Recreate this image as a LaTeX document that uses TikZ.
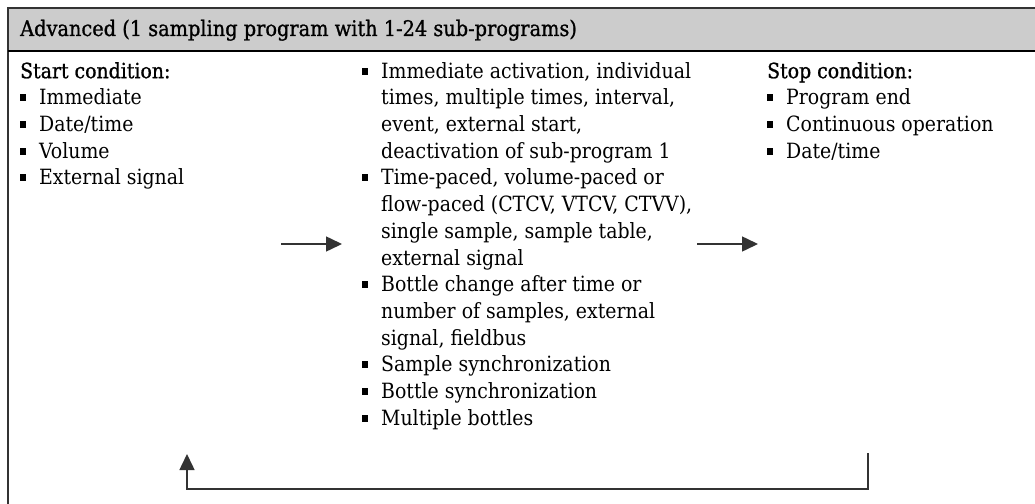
\documentclass[tikz,border=0pt]{standalone}
\usepackage{fontspec}
\setmainfont{DejaVu Serif Condensed}
\newfontfamily\headfont[FakeBold=1]{DejaVu Serif Condensed}
\usetikzlibrary{arrows.meta, positioning, calc}
\definecolor{headgray}{HTML}{CCCCCC}
\definecolor{linegray}{HTML}{333333}
\newcommand{\sqbul}{\raisebox{3.5pt}{\rule{6pt}{7pt}}}
\newcommand{\itm}[1]{\strut\makebox[19pt][l]{\sqbul}#1}
\newcommand{\cnt}[1]{\strut\hspace*{19pt}#1}
\begin{document}
\begin{tikzpicture}[x=1pt, y=-1pt, list/.style={anchor=north west, inner sep=0pt, align=left, font=\fontsize{21}{26.7}\selectfont}, flow/.style={draw=linegray, line width=1.5pt, -{Triangle[length=16pt, width=15pt]}}]
\useasboundingbox (0,0) rectangle (1035,503);
\fill[headgray] (8,8) rectangle (1040,51);
\draw[linegray, line width=1.5pt] (1040,8) -- (8,8) -- (8,510);
\draw[black, line width=2pt] (8,51) -- (1040,51);
\node[anchor=base west, inner sep=0pt, font=\fontsize{21.5}{26.7}\headfont] (title) at (20,36) {Advanced (1 sampling program with 1-24 sub-programs)};
\node[list] (start) at (20,59.3) {{\headfont\strut Start condition:}\\
\itm{Immediate}\\
\itm{Date/time}\\
\itm{Volume}\\
\itm{External signal}};
\node[list] (mid) at (362,59.3) {\itm{Immediate activation, individual}\\
\cnt{times, multiple times, interval,}\\
\cnt{event, external start,}\\
\cnt{deactivation of sub-program 1}\\
\itm{Time-paced, volume-paced or}\\
\cnt{flow-paced (CTCV, VTCV, CTVV),}\\
\cnt{single sample, sample table,}\\
\cnt{external signal}\\
\itm{Bottle change after time or}\\
\cnt{number of samples, external}\\
\cnt{signal, fieldbus}\\
\itm{Sample synchronization}\\
\itm{Bottle synchronization}\\
\itm{Multiple bottles}};
\node[list] (stop) at (767,59.3) {{\headfont\strut Stop condition:}\\
\itm{Program end}\\
\itm{Continuous operation}\\
\itm{Date/time}};
% arrows between the columns
\coordinate (in1) at (281,244);
\coordinate (out1) at (342,244);
\coordinate (in2) at (697,244);
\coordinate (out2) at (758,244);
\draw[flow] (in1) -- (out1);
\draw[flow] (in2) -- (out2);
% loop back to start
\coordinate (back) at (868,453);
\coordinate (again) at (187,454);
\draw[flow] (back) -- (back |- 0,489) -- (again |- 0,489) -- (again);
\end{tikzpicture}
\end{document}
